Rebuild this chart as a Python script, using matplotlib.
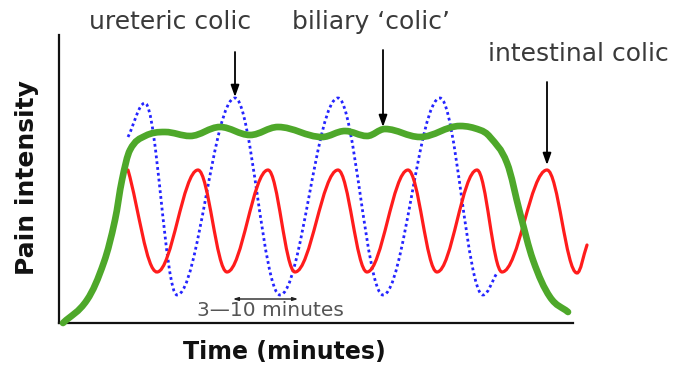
import numpy as np
import matplotlib
matplotlib.use("Agg")
import matplotlib.pyplot as plt
from matplotlib.path import Path
from matplotlib.patches import PathPatch

# time / intensity in arbitrary units (x: 0..514, y: 0..288)
green_t = [4, 28, 45, 56, 63, 71, 86, 106, 131, 161, 191, 219, 263, 286, 308,
           326, 361, 401, 421, 431, 448, 461, 474, 491, 509]
green_y = [0, 23, 61, 103, 143, 173, 187, 191, 187, 196, 188, 196, 186, 192, 187,
           194, 186, 197, 193, 186, 160, 110, 63, 26, 11]

red_t = [69, 98, 139, 168, 209, 236, 279, 308, 349, 378, 418, 443, 488, 518, 528]
red_y = [153, 51, 153, 51, 153, 51, 153, 51, 153, 51, 153, 51, 153, 50, 78]

blue_t = [69, 86, 118, 176, 221, 279, 324, 381, 424, 438]
blue_y = [186, 220, 28, 225, 28, 225, 28, 225, 28, 50]

# arrow x, tail y, head y
arrow_x = [176, 324, 488]
arrow_top = [271, 273, 241]
arrow_tip = [226, 196, 158]

labels = ["ureteric colic", "biliary \u2018colic\u2019", "intestinal colic"]
label_pos = [(170, 22), (371, 22), (578, 54)]  # pixels from top-left


def smooth_path(xs, ys, k=0.364):
    # cubic bezier through the points; flat handles on peaks/troughs
    x = np.asarray(xs, float)
    y = np.asarray(ys, float)
    n = len(x)
    slope = np.zeros(n)
    for i in range(n):
        if i == 0:
            slope[i] = (y[1] - y[0]) / (x[1] - x[0])
        elif i == n - 1:
            slope[i] = (y[-1] - y[-2]) / (x[-1] - x[-2])
        elif (y[i] - y[i - 1]) * (y[i + 1] - y[i]) <= 0:
            slope[i] = 0.0
        else:
            slope[i] = (y[i + 1] - y[i - 1]) / (x[i + 1] - x[i - 1])
    verts = [(x[0], y[0])]
    codes = [Path.MOVETO]
    for i in range(n - 1):
        h = k * (x[i + 1] - x[i])
        verts += [(x[i] + h, y[i] + slope[i] * h),
                  (x[i + 1] - h, y[i + 1] - slope[i + 1] * h),
                  (x[i + 1], y[i + 1])]
        codes += [Path.CURVE4] * 3
    return Path(verts, codes)


W, H = 675, 366
fig = plt.figure(figsize=(W / 100, H / 100), dpi=100)
ax = fig.add_axes([59 / W, (H - 323) / H, (573 - 59) / W, (323 - 35) / H])
ax.set_xlim(0, 514)
ax.set_ylim(0, 288)
ax.set_xticks([])
ax.set_yticks([])
for s in ["top", "right"]:
    ax.spines[s].set_visible(False)
for s in ["left", "bottom"]:
    ax.spines[s].set_linewidth(1.6)
    ax.spines[s].set_color("#111111")

ax.add_patch(PathPatch(smooth_path(blue_t, blue_y), fill=False, edgecolor="#2424ff",
                       linewidth=2.0, linestyle=(0, (1, 1.1)), clip_on=False, zorder=2))
ax.add_patch(PathPatch(smooth_path(red_t, red_y), fill=False, edgecolor="#ff1c1c",
                       linewidth=2.3, clip_on=False, zorder=3, capstyle="round"))
ax.add_patch(PathPatch(smooth_path(green_t, green_y), fill=False, edgecolor="#4ea82a",
                       linewidth=4.8, clip_on=False, zorder=4, capstyle="round"))

for x, y0, y1 in zip(arrow_x, arrow_top, arrow_tip):
    ax.annotate("", xy=(x, y1), xytext=(x, y0), annotation_clip=False,
                arrowprops=dict(arrowstyle="-|>,head_length=0.7,head_width=0.25",
                                color="black", lw=1.3, shrinkA=0, shrinkB=0))

# 3-10 minutes marker
ax.annotate("", xy=(239, 24), xytext=(174, 24),
            arrowprops=dict(arrowstyle="<|-|>,head_length=0.3,head_width=0.1",
                            color="#222222", lw=1.0, shrinkA=0, shrinkB=0))
ax.text(211, 12, "3\u201410 minutes", ha="center", va="center",
        fontsize=14.5, color="#555555")

for txt, (px, py) in zip(labels, label_pos):
    fig.text(px / W, 1 - py / H, txt, ha="center", va="center",
             fontsize=18, color="#3a3a3a")

fig.text(27 / W, 1 - 178 / H, "Pain intensity", rotation=90, ha="center",
         va="center", fontsize=18, fontweight="bold", color="#111111")
fig.text(284 / W, 1 - 352 / H, "Time (minutes)", ha="center", va="center",
         fontsize=17, fontweight="bold", color="#111111")

fig.savefig("out.png", dpi=100)
